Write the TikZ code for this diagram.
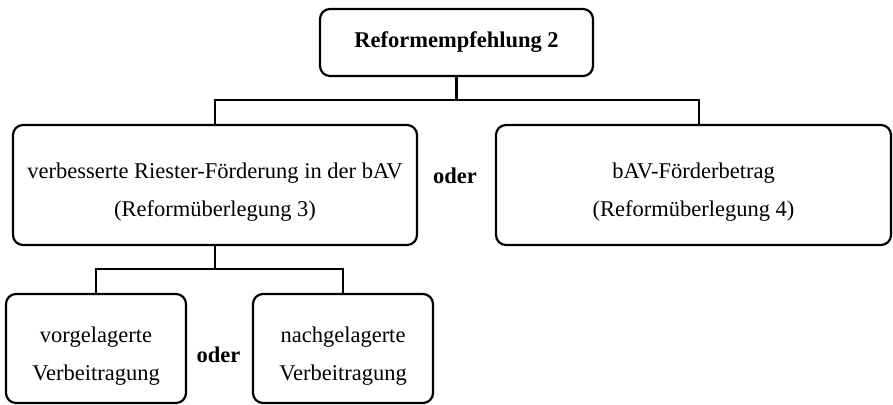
\documentclass[tikz,border=0pt]{standalone}
\usepackage{fontspec}
\setmainfont{Liberation Serif}
\newcommand{\topstrut}{\rule{0pt}{30pt}}
\begin{document}
\begin{tikzpicture}[x=1pt,y=-1pt,
  box/.style={draw,line width=2.2pt,rounded corners=10pt,inner sep=0pt,align=center,
    font=\fontsize{22.5}{38}\selectfont},
  conn/.style={line width=2.2pt},
  orlabel/.style={font=\fontsize{22.5}{27}\selectfont\bfseries,inner sep=0pt}]
\useasboundingbox (0,0) rectangle (893,404);
\node[box,minimum width=273pt,minimum height=67pt,font=\fontsize{22.5}{27}\selectfont\bfseries] (top) at (456.5,42.5) {Reformempfehlung 2};
\node[box,minimum width=404pt,minimum height=120pt] (left) at (215,185) {\topstrut verbesserte Riester-Förderung in der bAV\\(Reformüberlegung 3)};
\node[box,minimum width=395pt,minimum height=120pt] (right) at (693.5,185) {\topstrut bAV-Förderbetrag\\(Reformüberlegung 4)};
\node[box,minimum width=180pt,minimum height=109pt] (b1) at (96,348.5) {\topstrut vorgelagerte\\Verbeitragung};
\node[box,minimum width=180pt,minimum height=109pt] (b2) at (343,348.5) {\topstrut nachgelagerte\\Verbeitragung};
\node[orlabel] (or1) at (455,176) {oder};
\node[orlabel] (or2) at (218.5,355) {oder};
\coordinate (j1) at (456.5,100);
\coordinate (j2) at (215,269);
\draw[conn] (top.south) -- (j1);
\draw[conn] (left.north) |- (j1) -| (right.north -| 699,0);
\draw[conn] (left.south) -- (j2);
\draw[conn] (b1.north) |- (j2) -| (b2.north);
\end{tikzpicture}
\end{document}
